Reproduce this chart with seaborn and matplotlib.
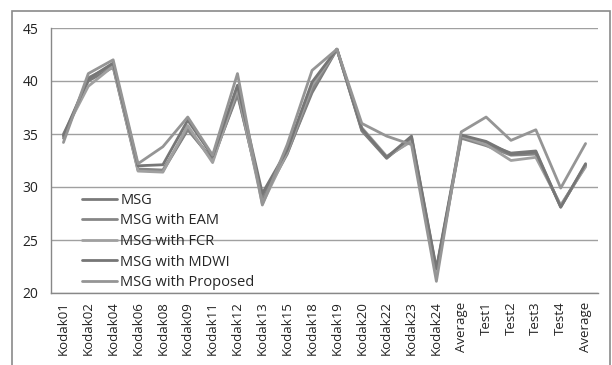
import matplotlib
matplotlib.use("Agg")
import matplotlib.pyplot as plt
import seaborn as sns
import pandas as pd
from matplotlib.patches import Rectangle

categories = ["Kodak01", "Kodak02", "Kodak04", "Kodak06", "Kodak08", "Kodak09",
              "Kodak11", "Kodak12", "Kodak13", "Kodak15", "Kodak18", "Kodak19",
              "Kodak20", "Kodak22", "Kodak23", "Kodak24", "Average",
              "Test1", "Test2", "Test3", "Test4", "Average"]

msg      = [34.8, 40.0, 41.3, 31.6, 31.5, 35.4, 32.6, 38.7, 29.0, 33.2, 38.9, 43.0,
            35.3, 32.7, 34.7, 22.2, 34.7, 34.1, 33.2, 33.4, 28.1, 32.1]
msg_eam  = [34.6, 40.3, 41.5, 31.7, 31.6, 35.5, 32.5, 38.9, 28.8, 33.1, 39.2, 43.0,
            35.4, 32.8, 34.4, 22.0, 34.6, 33.9, 33.0, 33.1, 28.2, 32.0]
msg_fcr  = [35.0, 39.5, 41.4, 31.5, 31.4, 35.8, 32.3, 39.3, 28.4, 33.3, 39.6, 43.0,
            35.6, 32.9, 34.3, 21.8, 34.8, 34.0, 32.5, 32.8, 28.3, 31.9]
msg_mdwi = [34.9, 40.2, 41.7, 32.0, 32.1, 36.3, 32.9, 39.6, 29.4, 33.5, 39.9, 43.0,
            35.5, 32.8, 34.8, 22.3, 34.9, 34.3, 33.1, 33.3, 28.1, 32.2]
msg_prop = [34.2, 40.7, 42.0, 32.2, 33.8, 36.6, 33.0, 40.7, 28.3, 34.0, 41.0, 43.0,
            36.0, 34.8, 34.0, 21.1, 35.2, 36.6, 34.4, 35.4, 29.9, 34.1]

series_names = ["MSG", "MSG with EAM", "MSG with FCR", "MSG with MDWI", "MSG with Proposed"]
series_values = [msg, msg_eam, msg_fcr, msg_mdwi, msg_prop]
y_ticks = [20, 25, 30, 35, 40, 45]

rows = []
for name, vals in zip(series_names, series_values):
    for i, v in enumerate(vals):
        rows.append({"idx": i, "value": v, "method": name})
df = pd.DataFrame(rows)

palette = {"MSG": "#7a7a7a", "MSG with EAM": "#868686", "MSG with FCR": "#a0a0a0",
           "MSG with MDWI": "#767676", "MSG with Proposed": "#959595"}

sns.set_style("white")
plt.rcParams["font.family"] = ["Open Sans", "DejaVu Sans"]

fig = plt.figure(figsize=(6.12, 3.65), dpi=100)
ax = fig.add_axes([51/612, 1 - 293/365, (598 - 51)/612, (293 - 28)/365])

sns.lineplot(data=df, x="idx", y="value", hue="method", palette=palette,
             hue_order=series_names, linewidth=2.0, ax=ax, legend=True)

ax.set_xlim(-0.5, len(categories) - 0.5)
ax.set_ylim(20, 45)
ax.set_yticks(y_ticks)
ax.set_yticklabels([str(t) for t in y_ticks], fontsize=10, color="#222222")
ax.set_xticks(range(len(categories)))
ax.set_xticklabels(categories, rotation=90, fontsize=9.5, color="#222222")
ax.set_xticks([i - 0.5 for i in range(len(categories) + 1)], minor=True)
ax.tick_params(axis="x", which="major", length=0, pad=6)
ax.tick_params(axis="x", which="minor", length=5, color="#888888", width=1)
ax.tick_params(axis="y", which="major", length=5, color="#888888", width=1, pad=4)
ax.set_xlabel("")
ax.set_ylabel("")
ax.grid(axis="y", color="#a0a0a0", linewidth=1)
ax.set_axisbelow(True)
for s in ["top", "right"]:
    ax.spines[s].set_visible(False)
for s in ["left", "bottom"]:
    ax.spines[s].set_color("#888888")
    ax.spines[s].set_linewidth(1)

leg = ax.legend(loc="lower left", bbox_to_anchor=(0.04, -0.022), frameon=False,
                fontsize=10.5, handlelength=2.4, handletextpad=0.25,
                labelspacing=0.38, borderaxespad=0.2)
for line in leg.get_lines():
    line.set_linewidth(2.0)

fig.patches.append(Rectangle((12/612, -0.1), (610 - 12)/612, 1.1 - 11/365 + 0.0,
                             transform=fig.transFigure, fill=False,
                             edgecolor="#8a8a8a", linewidth=1.2))

fig.savefig("out.png", dpi=100)
